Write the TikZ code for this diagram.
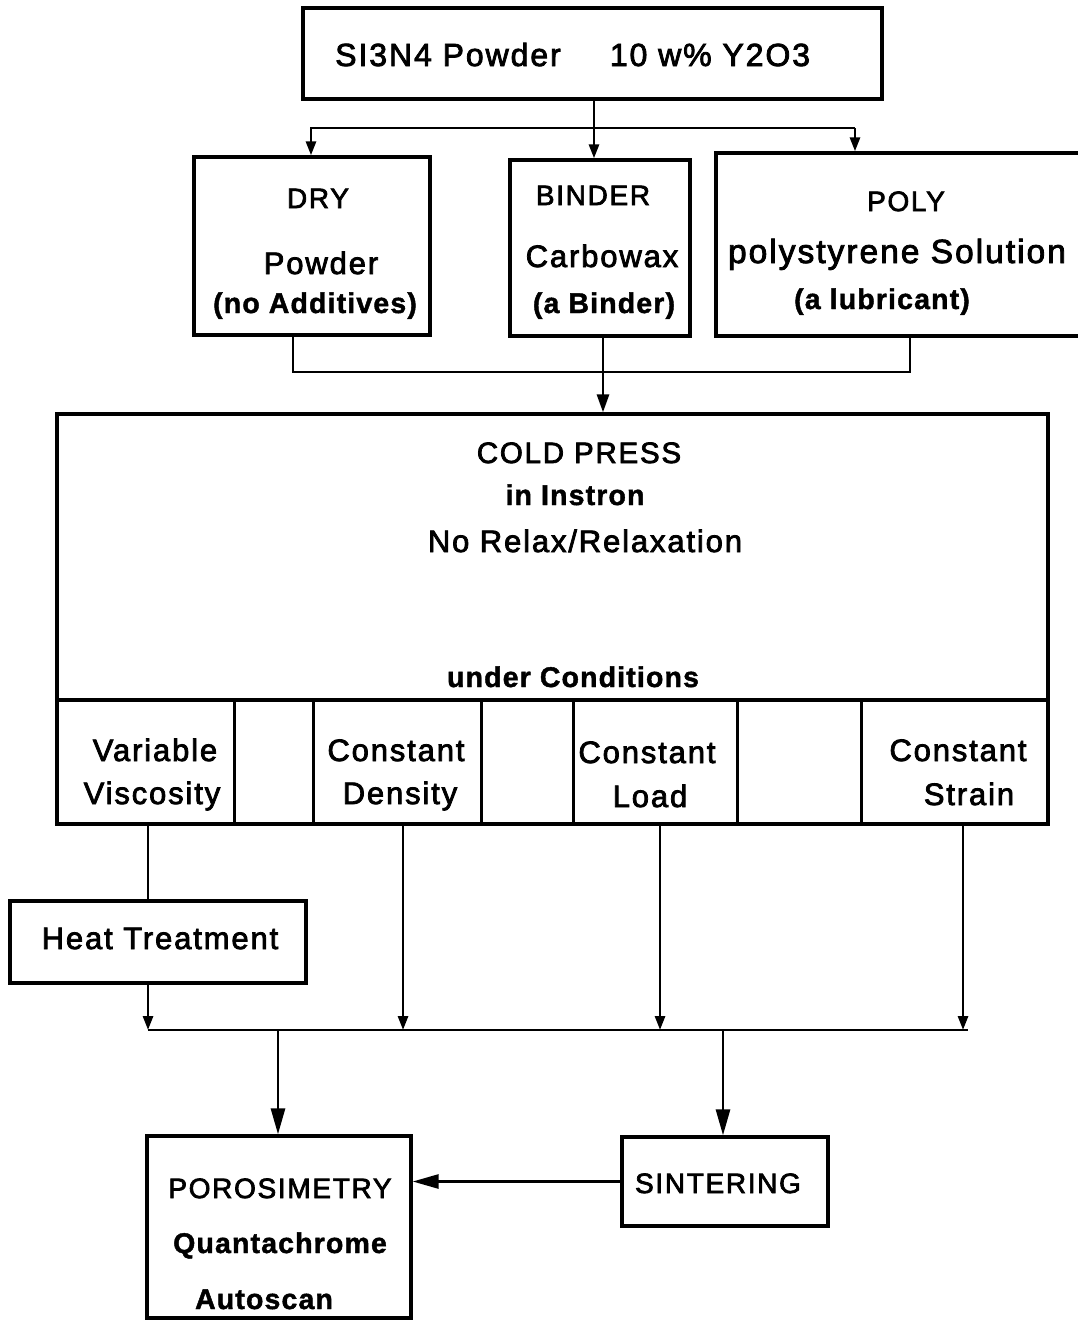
\documentclass[tikz,border=0pt]{standalone}
\usepackage{fontspec}
\usetikzlibrary{arrows.meta}
\newfontfamily\fr{Liberation Sans}[LetterSpace=6,FakeBold=2.5]
\newfontfamily\fb{Liberation Sans}[LetterSpace=4,FakeBold=1.5]
\tikzset{
  box/.style={draw, line width=3.3pt, inner sep=0pt},
  conn/.style={line width=2.8pt},
  arrS/.style={conn, -{Triangle[length=14pt,width=10pt]}},
  arrM/.style={conn, -{Triangle[length=18pt,width=12pt]}},
  arrL/.style={conn, -{Triangle[length=26pt,width=14pt]}},
  lr/.style={anchor=base, inner sep=0pt, font=\fr\fontsize{31}{36}\selectfont},
  lc/.style={anchor=base, inner sep=0pt, font=\fr\fontsize{28}{33}\selectfont},
  lb/.style={anchor=base, inner sep=0pt, font=\fb\bfseries\fontsize{28.5}{33}\selectfont},
}
\begin{document}
\begin{tikzpicture}[x=1pt,y=-1pt]
\useasboundingbox (0,0) rectangle (1078,1320);
% boxes
\node[box, minimum width=579pt, minimum height=91pt] (top) at (592.5,53.5) {};
\node[box, minimum width=236pt, minimum height=178pt] (dry) at (312,246) {};
\node[box, minimum width=180pt, minimum height=176pt] (binder) at (600,248) {};
\node[box, minimum width=380pt, minimum height=183pt] (poly) at (906,244.5) {};
\node[box, minimum width=991pt, minimum height=410pt] (cold) at (552.5,619) {};
\node[box, minimum width=296pt, minimum height=82pt] (heat) at (158,942) {};
\node[box, minimum width=264pt, minimum height=182pt] (poro) at (279,1227) {};
\node[box, minimum width=206pt, minimum height=89pt] (sint) at (725,1181.5) {};
% condition row of the cold press box
\coordinate (row) at (0,700);
\draw[line width=3.3pt] (cold.west |- row) -- (cold.east |- row);
\foreach \x in {234,313,481,573,737,861}
  \draw[line width=3pt] (\x,700) -- (\x,824);
% texts
\node[lr, font=\fr\fontsize{32}{36}\selectfont] (t1) at (448,66) {SI3N4 Powder};
\node[lr, font=\fr\fontsize{32}{36}\selectfont] (t2) at (710,66) {10 w\% Y2O3};
\node[lc] (d1) at (318,208) {DRY};
\node[lr] (d2) at (321,274) {Powder};
\node[lb] (d3) at (315,313) {(no Additives)};
\node[lc] (b1) at (593,205) {BINDER};
\node[lr] (b2) at (602,267) {Carbowax};
\node[lb] (b3) at (604,313) {(a Binder)};
\node[lc] (p1) at (906,211) {POLY};
\node[lr, font=\fr\fontsize{33.5}{38}\selectfont] (p2) at (897,263) {polystyrene Solution};
\node[lb] (p3) at (882,309) {(a lubricant)};
\node[lc, font=\fr\fontsize{29.5}{34}\selectfont] (c1) at (579,463) {COLD PRESS};
\node[lb] (c2) at (575,505) {in Instron};
\node[lr] (c3) at (585,552) {No Relax/Relaxation};
\node[lb] (c4) at (573,687) {under Conditions};
\node[lr] (v1) at (155,761) {Variable};
\node[lr] (v2) at (152,804) {Viscosity};
\node[lr] (e1) at (396,761) {Constant};
\node[lr] (e2) at (400,804) {Density};
\node[lr] (f1) at (647,763) {Constant};
\node[lr] (f2) at (650,807) {Load};
\node[lr] (g1) at (958,761) {Constant};
\node[lr] (g2) at (969,805) {Strain};
\node[lr] (h1) at (160,949) {Heat Treatment};
\node[lc] (q1) at (280,1198) {POROSIMETRY};
\node[lb] (q2) at (280,1253) {Quantachrome};
\node[lb] (q3) at (264,1309) {Autoscan};
\node[lc] (s1) at (718,1193) {SINTERING};
% connectors: top split
\coordinate (jm) at (594,128);
\coordinate (jl) at (311,128);
\coordinate (jr) at (855,128);
\draw[arrS] (top.south -| jm) -- (binder.north -| jm);
\draw[arrS] (jr) -- (jl) -- (dry.north -| jl);
\draw[arrS] (jr) -- (poly.north -| jr);
% merge into cold press
\coordinate (ml) at (293,372);
\coordinate (mr) at (910,372);
\coordinate (mb) at (603,372);
\draw[conn] (dry.south -| ml) -- (ml) -- (mr) -- (poly.south -| mr);
\draw[arrM] (binder.south -| mb) -- (cold.north -| mb);
% below cold press
\coordinate (k1) at (148,1030);
\coordinate (k2) at (403,1030);
\coordinate (k3) at (660,1030);
\coordinate (k4) at (963,1030);
\coordinate (kend) at (968,1030);
\draw[conn] (cold.south -| k1) -- (heat.north -| k1);
\draw[arrS] (heat.south -| k1) -- (k1);
\draw[arrS] (cold.south -| k2) -- (k2);
\draw[arrS] (cold.south -| k3) -- (k3);
\draw[arrS] (cold.south -| k4) -- (k4);
\draw[conn] (k1) -- (kend);
% to porosimetry and sintering
\coordinate (o1) at (278,1030);
\coordinate (o2) at (723,1030);
\draw[arrL] (o1) -- (poro.north -| o1);
\draw[arrL] (o2) -- (sint.north -| o2);
\draw[arrL] (sint.west) -- (poro.east |- sint.west);
\end{tikzpicture}
\end{document}
